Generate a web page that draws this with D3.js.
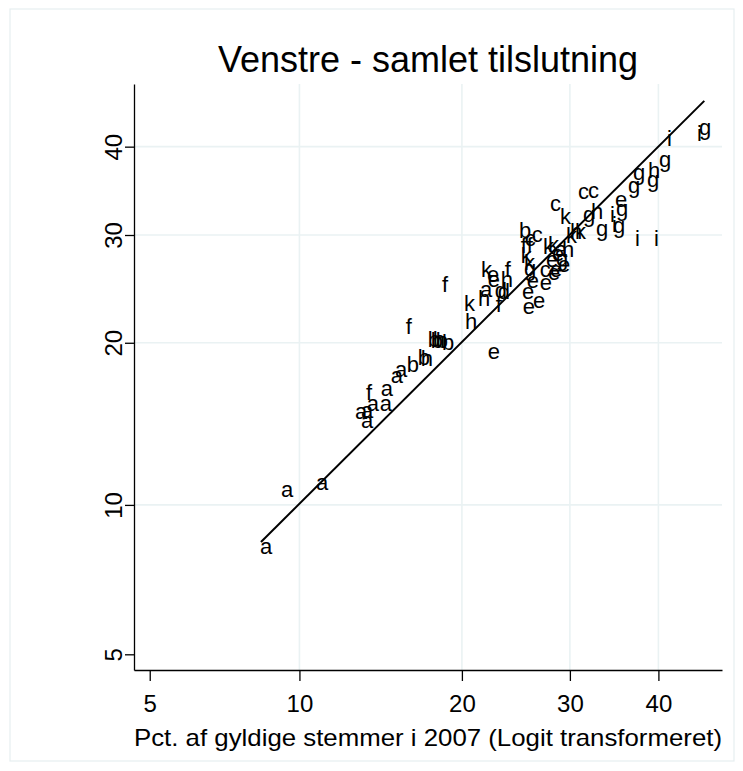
<!DOCTYPE html>
<html><head><meta charset="utf-8">
<script src="https://cdn.jsdelivr.net/npm/d3@7"></script>
<style>body{margin:0;background:#fff}svg{display:block}</style>
</head><body><svg id="c" width="743" height="771"></svg>
<script>
const labels = ["a","a","a","a","a","a","a","a","f","a","a","a","b","b","h","f","b","b","h","b","b","f","h","e","k","h","a","d","d","f","k","e","e","h","f","b","c","c","f","f","k","k","g","c","e","e","e","e","e","e","e","e","k","k","e","g","e","h","a","c","k","c","c","g","h","h","k","k","g","i","g","e","g","i","i","i","g","g","g","h","g","i","g","i"];
const xPct = [8.36,9.20,10.77,12.79,13.13,13.13,13.46,14.23,13.41,14.29,14.92,15.18,15.96,16.71,16.92,15.89,17.42,17.63,17.78,18.00,18.45,18.45,20.25,22.15,20.17,21.32,21.49,22.76,23.02,22.85,21.57,22.07,22.15,23.29,23.65,24.94,26.17,25.50,25.12,25.69,25.12,25.41,25.41,26.95,27.75,25.69,26.95,27.95,28.77,25.22,26.27,25.31,27.25,27.75,28.15,28.56,27.55,29.18,28.46,27.95,28.97,30.86,31.93,31.39,32.25,30.00,30.54,29.59,32.81,34.37,35.05,34.93,34.71,34.60,37.24,39.47,36.43,37.01,38.64,38.75,40.06,41.03,44.95,44.70];
const yPct = [8.24,10.67,11.01,14.98,15.04,14.42,15.50,15.50,16.23,16.50,17.42,17.86,18.23,18.75,18.68,21.24,20.17,20.09,20.17,20.09,19.92,24.94,21.66,19.21,23.29,23.74,24.56,24.47,24.38,23.20,26.46,25.98,25.50,25.50,26.46,30.43,30.00,29.59,28.77,28.77,27.85,27.15,26.56,26.37,26.17,25.41,25.22,26.46,26.95,24.38,23.56,23.02,28.67,28.97,28.05,27.55,27.45,28.36,28.36,33.36,31.93,34.60,34.82,32.14,32.47,30.32,30.32,29.90,30.64,32.14,32.81,33.70,30.86,31.07,29.49,29.49,35.39,36.78,36.08,37.12,38.40,40.91,42.24,41.51];
const fitX = [8.4, 45.6];
const fitY = [8.45, 45.6];
const xTickVals = [5, 10, 20, 30, 40];
const yTickVals = [5, 10, 20, 30, 40];
const gridVals = [10, 20, 30, 40];
const titleText = "Venstre - samlet tilslutning";
const xTitleText = "Pct. af gyldige stemmer i 2007 (Logit transformeret)";

const logit = p => Math.log((p / 100) / (1 - p / 100));
const L = 134, R = 722, T = 84, B = 670;
const xs = d3.scaleLinear().domain([logit(4.64), logit(47.8)]).range([L, R]);
const ys = d3.scaleLinear().domain([logit(4.64), logit(47.7)]).range([B, T]);
const X = p => xs(logit(p));
const Y = p => ys(logit(p));

const svg = d3.select("#c");
const FONT = "Liberation Sans, Arial, Helvetica, sans-serif";

svg.append("rect").attr("x", 10).attr("y", 9).attr("width", 724).attr("height", 752)
  .attr("fill", "#fff").attr("stroke", "#e6eef0").attr("stroke-width", 1.2);

// gridlines
svg.append("g").selectAll("line").data(gridVals).join("line")
  .attr("x1", d => X(d)).attr("x2", d => X(d)).attr("y1", T).attr("y2", B)
  .attr("stroke", "#eaf2f3").attr("stroke-width", 1.6);
svg.append("g").selectAll("line").data(gridVals).join("line")
  .attr("y1", d => Y(d)).attr("y2", d => Y(d)).attr("x1", L).attr("x2", R)
  .attr("stroke", "#eaf2f3").attr("stroke-width", 1.6);

// axes
const xAxis = d3.axisBottom(xs).tickValues(xTickVals.map(logit))
  .tickFormat((d, i) => xTickVals[i]).tickSize(11).tickSizeOuter(0);
const gx = svg.append("g").attr("transform", `translate(0,${B})`).call(xAxis);
gx.select(".domain").attr("stroke", "#000").attr("stroke-width", 1.3);
gx.selectAll(".tick line").attr("stroke", "#000").attr("stroke-width", 1.3);
gx.selectAll(".tick text").attr("y", 42).attr("dy", 0)
  .attr("font-family", FONT).attr("font-size", 24).attr("fill", "#000");

const yAxis = d3.axisLeft(ys).tickValues(yTickVals.map(logit))
  .tickFormat((d, i) => yTickVals[i]).tickSize(9).tickSizeOuter(0);
const gy = svg.append("g").attr("transform", `translate(${L},0)`).call(yAxis);
gy.select(".domain").attr("stroke", "#000").attr("stroke-width", 1.3);
gy.selectAll(".tick line").attr("stroke", "#000").attr("stroke-width", 1.3);
gy.selectAll(".tick text").attr("x", 0).attr("dy", 0).attr("text-anchor", "middle")
  .attr("transform", "translate(-12,0) rotate(-90)")
  .attr("font-family", FONT).attr("font-size", 24).attr("fill", "#000");

// fit line
const fitData = fitX.map((v, i) => [v, fitY[i]]);
svg.append("path").datum(fitData)
  .attr("d", d3.line().x(d => X(d[0])).y(d => Y(d[1])))
  .attr("fill", "none").attr("stroke", "#000").attr("stroke-width", 2);

// marker labels
const pts = labels.map((l, i) => ({ l, x: xPct[i], y: yPct[i] }));
svg.append("g").selectAll("text").data(pts).join("text")
  .attr("x", d => X(d.x)).attr("y", d => Y(d.y)).attr("dy", "0.3em")
  .attr("font-family", FONT).attr("font-size", 22).attr("fill", "#000")
  .text(d => d.l);

// titles
svg.append("text").attr("x", (L + R) / 2).attr("y", 72).attr("text-anchor", "middle")
  .attr("font-family", FONT).attr("font-size", 36).attr("fill", "#000").text(titleText);
svg.append("text").attr("x", (L + R) / 2).attr("y", 746).attr("text-anchor", "middle")
  .attr("font-family", FONT).attr("font-size", 24).attr("textLength", 588)
  .attr("lengthAdjust", "spacingAndGlyphs").attr("fill", "#000").text(xTitleText);
</script></body></html>
